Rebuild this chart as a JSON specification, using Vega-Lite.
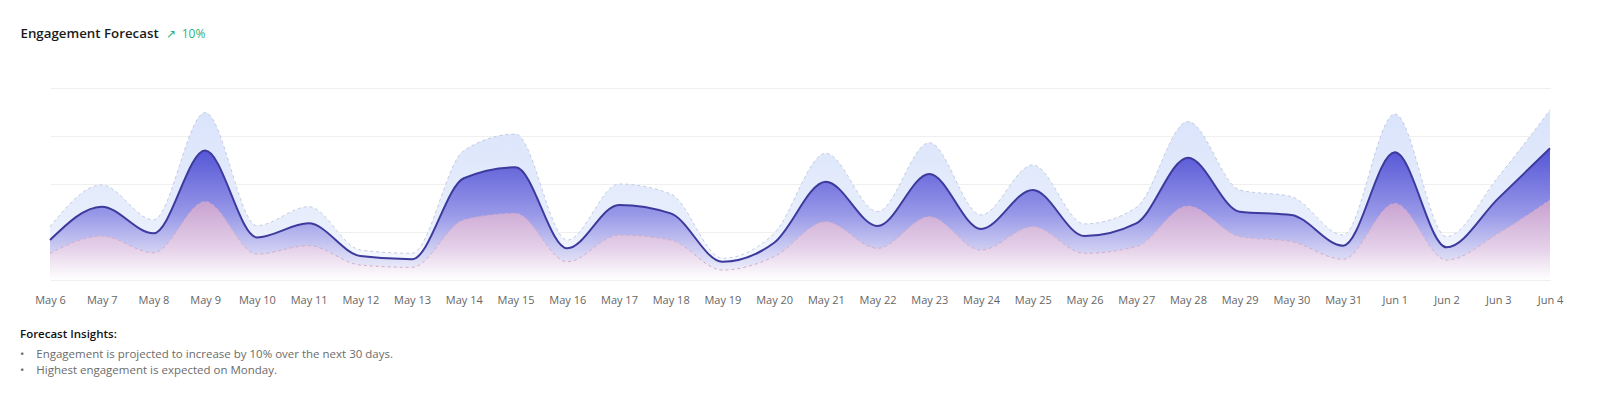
{
  "$schema": "https://vega.github.io/schema/vega-lite/v6.json",
  "width": 1500,
  "height": 192,
  "autosize": {"type": "none"},
  "padding": {"left": 50, "top": 88, "right": 50, "bottom": 118},
  "background": "#ffffff",
  "title": {
    "text": "Forecast Insights:",
    "subtitle": ["•\u00a0\u00a0\u00a0\u00a0Engagement is projected to increase by 10% over the next 30 days.", "•\u00a0\u00a0\u00a0\u00a0Highest engagement is expected on Monday."],
    "orient": "bottom",
    "anchor": "start",
    "frame": "group",
    "dx": -30,
    "offset": 24,
    "font": "Open Sans",
    "fontSize": 11.5,
    "fontWeight": 600,
    "color": "#111111",
    "subtitleFont": "Open Sans",
    "subtitleFontSize": 11.5,
    "subtitleColor": "#6b6b6b",
    "subtitlePadding": 8,
    "subtitleLineHeight": 16.5
  },
  "data": {
    "values": [
      {"day": "May 6", "upper": 27.8, "value": 20.8, "lower": 13.9},
      {"day": "May 7", "upper": 49.5, "value": 38.2, "lower": 22.9},
      {"day": "May 8", "upper": 31.3, "value": 24.3, "lower": 14.2},
      {"day": "May 9", "upper": 87.2, "value": 67.4, "lower": 40.8},
      {"day": "May 10", "upper": 28.3, "value": 22.2, "lower": 13.5},
      {"day": "May 11", "upper": 38.2, "value": 29.5, "lower": 17.9},
      {"day": "May 12", "upper": 15.6, "value": 12.5, "lower": 7.8},
      {"day": "May 13", "upper": 13.9, "value": 10.8, "lower": 6.6},
      {"day": "May 14", "upper": 67.4, "value": 53.0, "lower": 31.3},
      {"day": "May 15", "upper": 76.0, "value": 58.7, "lower": 34.7},
      {"day": "May 16", "upper": 20.8, "value": 16.5, "lower": 9.5},
      {"day": "May 17", "upper": 50.0, "value": 39.1, "lower": 23.4},
      {"day": "May 18", "upper": 44.8, "value": 34.7, "lower": 20.8},
      {"day": "May 19", "upper": 11.3, "value": 9.5, "lower": 5.2},
      {"day": "May 20", "upper": 24.3, "value": 19.4, "lower": 12.2},
      {"day": "May 21", "upper": 66.0, "value": 51.2, "lower": 30.4},
      {"day": "May 22", "upper": 35.6, "value": 28.1, "lower": 16.5},
      {"day": "May 23", "upper": 71.5, "value": 55.2, "lower": 33.0},
      {"day": "May 24", "upper": 33.9, "value": 26.6, "lower": 15.6},
      {"day": "May 25", "upper": 59.9, "value": 46.9, "lower": 27.8},
      {"day": "May 26", "upper": 29.2, "value": 22.9, "lower": 13.9},
      {"day": "May 27", "upper": 37.7, "value": 29.5, "lower": 17.4},
      {"day": "May 28", "upper": 82.5, "value": 63.7, "lower": 38.5},
      {"day": "May 29", "upper": 46.9, "value": 35.6, "lower": 22.6},
      {"day": "May 30", "upper": 43.4, "value": 33.9, "lower": 20.0},
      {"day": "May 31", "upper": 23.4, "value": 17.9, "lower": 10.8},
      {"day": "Jun 1", "upper": 86.5, "value": 66.5, "lower": 39.9},
      {"day": "Jun 2", "upper": 22.6, "value": 17.0, "lower": 10.4},
      {"day": "Jun 3", "upper": 53.8, "value": 42.5, "lower": 24.3},
      {"day": "Jun 4", "upper": 88.5, "value": 68.6, "lower": 41.7}
    ]
  },
  "encoding": {
    "x": {
      "field": "day",
      "type": "ordinal",
      "sort": null,
      "scale": {"type": "point", "padding": 0},
      "axis": {
        "title": "↗\u00a0\u00a010%",
        "titleX": 115,
        "titleY": -243,
        "titleAlign": "left",
        "titleBaseline": "alphabetic",
        "titleAnchor": null,
        "titleFont": "Open Sans",
        "titleFontSize": 12,
        "titleFontWeight": 400,
        "titleColor": "#2fb37a",
        "labelAngle": 0,
        "labelFont": "Open Sans",
        "labelFontSize": 11,
        "labelColor": "#666666",
        "labelPadding": 14,
        "ticks": false,
        "domain": false,
        "grid": false
      }
    }
  },
  "layer": [
    {
      "mark": {
        "type": "area",
        "interpolate": "monotone",
        "color": {
          "gradient": "linear", "x1": 0, "y1": 0, "x2": 0, "y2": 1,
          "stops": [
            {"offset": 0, "color": "#d9e3fb"},
            {"offset": 0.7, "color": "#e9effc"},
            {"offset": 1, "color": "#ffffff"}
          ]
        }
      },
      "encoding": {
        "y": {
          "field": "upper",
          "type": "quantitative",
          "scale": {"domain": [0, 100], "nice": false},
          "axis": {
            "title": "Engagement Forecast",
            "titleAngle": 0,
            "titleX": -30,
            "titleY": -51,
            "titleAlign": "left",
            "titleBaseline": "alphabetic",
            "titleAnchor": null,
            "titleFont": "Open Sans",
            "titleFontSize": 13.3,
            "titleFontWeight": 600,
            "titleColor": "#1a1a1a",
            "values": [0, 25, 50, 75, 100],
            "labels": false,
            "ticks": false,
            "domain": false,
            "grid": true,
            "gridColor": "#efefef",
            "gridWidth": 1
          }
        }
      }
    },
    {
      "mark": {
        "type": "area",
        "interpolate": "monotone",
        "color": {
          "gradient": "linear", "x1": 0, "y1": 0, "x2": 0, "y2": 1,
          "stops": [
            {"offset": 0, "color": "#5454d6"},
            {"offset": 0.5, "color": "#9898e8"},
            {"offset": 0.85, "color": "#dedef6"},
            {"offset": 1, "color": "#ffffff"}
          ]
        }
      },
      "encoding": {"y": {"field": "value", "type": "quantitative"}}
    },
    {
      "mark": {
        "type": "area",
        "interpolate": "monotone",
        "color": {
          "gradient": "linear", "x1": 0, "y1": 0, "x2": 0, "y2": 1,
          "stops": [
            {"offset": 0, "color": "#c8a0d0"},
            {"offset": 0.6, "color": "#e4d0e8"},
            {"offset": 1, "color": "#ffffff"}
          ]
        }
      },
      "encoding": {"y": {"field": "lower", "type": "quantitative"}}
    },
    {
      "mark": {"type": "line", "interpolate": "monotone", "color": "#d2abc9", "strokeWidth": 1, "strokeDash": [3, 3]},
      "encoding": {"y": {"field": "lower", "type": "quantitative"}}
    },
    {
      "mark": {"type": "line", "interpolate": "monotone", "color": "#c2cbe0", "strokeWidth": 1, "strokeDash": [3, 3]},
      "encoding": {"y": {"field": "upper", "type": "quantitative"}}
    },
    {
      "mark": {"type": "line", "interpolate": "monotone", "color": "#3c3a9c", "strokeWidth": 2},
      "encoding": {"y": {"field": "value", "type": "quantitative"}}
    }
  ],
  "config": {"view": {"stroke": null}}
}
